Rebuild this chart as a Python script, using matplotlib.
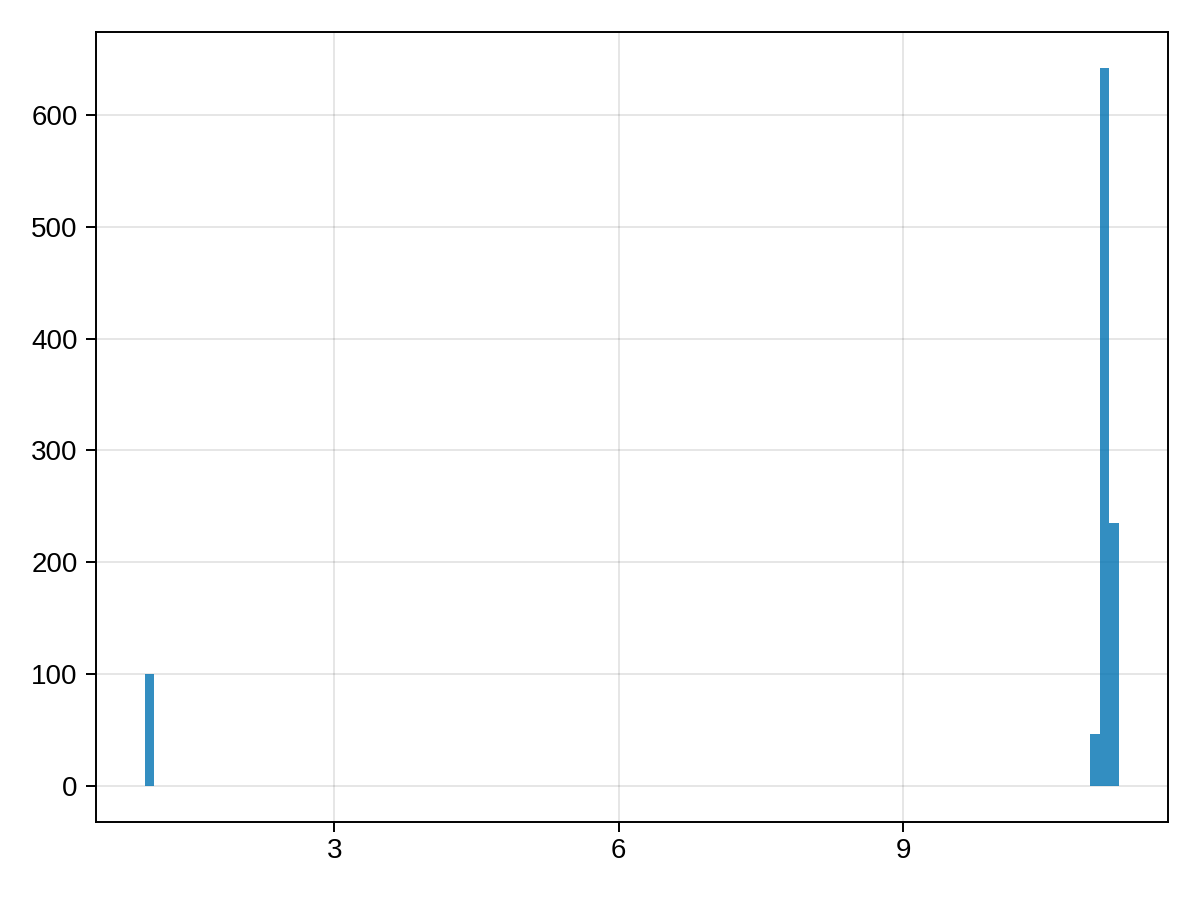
import numpy as np
import matplotlib
matplotlib.use("Agg")
import matplotlib.pyplot as plt

# Histogram data (100 equal bins from 1.0 to 11.28)
bin_start = 1.0
bin_stop = 11.28
n_bins = 100
nonzero_bins = [0, 97, 98, 99]
nonzero_counts = [100, 47, 642, 235]

x_ticks = [3, 6, 9]
y_ticks = [0, 100, 200, 300, 400, 500, 600]

edges = np.linspace(bin_start, bin_stop, n_bins + 1)
counts = np.zeros(n_bins)
for b, c in zip(nonzero_bins, nonzero_counts):
    counts[b] = c

plt.rcParams['font.family'] = ['Liberation Sans', 'DejaVu Sans']
plt.rcParams['font.size'] = 20

fig = plt.figure(figsize=(12, 9), dpi=100)
ax = fig.add_axes([0.08, 1 - 822 / 900, 0.9733 - 0.08, (822 - 32) / 900])

ax.bar(edges[:-1], counts, width=np.diff(edges), align='edge',
       color='#0072B2', alpha=0.8, linewidth=0, zorder=3)

xr = bin_stop - bin_start
ax.set_xlim(bin_start - 0.05 * xr, bin_stop + 0.05 * xr)
ymax = max(nonzero_counts)
ax.set_ylim(-0.05 * ymax, ymax * 1.05)

ax.set_xticks(x_ticks)
ax.set_yticks(y_ticks)
ax.grid(True, color='black', alpha=0.1, linewidth=1.4, zorder=0)
ax.set_axisbelow(True)
for s in ax.spines.values():
    s.set_linewidth(1.4)
    s.set_color('black')
ax.tick_params(axis='both', length=7.2, width=1.4, direction='out', color='black')
ax.tick_params(axis='x', pad=4)
ax.tick_params(axis='y', pad=6)

fig.savefig('out.png', dpi=100)
